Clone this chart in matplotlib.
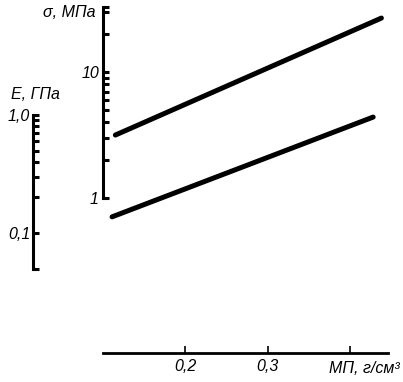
import matplotlib
matplotlib.use("Agg")
import matplotlib.pyplot as plt
from matplotlib import ticker

# density of the material, g/cm3 (line end points)
density_sigma = [0.115, 0.438]
sigma_mpa = [3.16, 26.8]
density_e = [0.111, 0.428]
e_gpa = [0.137, 0.96]

x_ticks = [0.2, 0.3, 0.4]
x_tick_labels = ["0,2", "0,3", ""]
sigma_major = [1, 10]
sigma_major_labels = ["1", "10"]
sigma_minor = [2, 3, 4, 5, 6, 7, 8, 9, 20, 30, 32.8]
e_major = [0.1, 1.0]
e_major_labels = ["0,1", "1,0"]
e_minor = [0.05, 0.2, 0.3, 0.4, 0.5, 0.6, 0.7, 0.8, 0.9]


def plot_density_chart():
    font = {'family': 'Liberation Sans', 'style': 'italic', 'size': 11.5}
    matplotlib.rc('font', **font)
    fig = plt.figure(figsize=(4.03, 3.82), dpi=100)
    pos = [103 / 403, 1 - 353 / 382, 285 / 403, 346 / 382]

    ax = fig.add_axes(pos)
    ax.set_xlim(0.1, 0.446)
    ax.set_yscale("log")
    ax.set_ylim(10 ** -1.230, 10 ** 1.516)
    ax.plot(density_sigma, sigma_mpa, color="black", lw=3.6, solid_capstyle="round")

    for s in ["top", "right"]:
        ax.spines[s].set_visible(False)
    ax.spines["left"].set_bounds(1, 32.8)
    ax.spines["left"].set_linewidth(2.2)
    ax.spines["bottom"].set_linewidth(2.0)

    ax.yaxis.set_major_locator(ticker.FixedLocator(sigma_major))
    ax.yaxis.set_major_formatter(ticker.FixedFormatter(sigma_major_labels))
    ax.yaxis.set_minor_locator(ticker.FixedLocator(sigma_minor))
    ax.yaxis.set_minor_formatter(ticker.NullFormatter())
    ax.tick_params(axis="y", which="both", direction="in", length=4.5, width=2.2, pad=3)
    ax.xaxis.set_major_locator(ticker.FixedLocator(x_ticks))
    ax.xaxis.set_major_formatter(ticker.FixedFormatter(x_tick_labels))
    ax.tick_params(axis="x", direction="in", length=5, width=1.2, pad=4)

    ax.text(-0.028, 0.9855, "σ, МПа", transform=ax.transAxes, ha="right", va="center")
    ax.text(1.042, -0.0434, "МП, г/см³", transform=ax.transAxes, ha="right", va="center")

    # second scale for the modulus
    ax2 = fig.add_axes(pos)
    ax2.patch.set_visible(False)
    ax2.set_xlim(0.1, 0.446)
    ax2.set_yscale("log")
    ax2.set_ylim(10 ** -2.017, 10 ** 0.915)
    ax2.plot(density_e, e_gpa, color="black", lw=3.6, solid_capstyle="round")
    for s in ["top", "right", "bottom"]:
        ax2.spines[s].set_visible(False)
    ax2.spines["left"].set_position(("axes", -70 / 285))
    ax2.spines["left"].set_bounds(0.05, 1.0)
    ax2.spines["left"].set_linewidth(2.2)
    ax2.xaxis.set_visible(False)
    ax2.yaxis.set_major_locator(ticker.FixedLocator(e_major))
    ax2.yaxis.set_major_formatter(ticker.FixedFormatter(e_major_labels))
    ax2.yaxis.set_minor_locator(ticker.FixedLocator(e_minor))
    ax2.yaxis.set_minor_formatter(ticker.NullFormatter())
    ax2.tick_params(axis="y", which="both", direction="in", length=4.5, width=2.2, pad=2)
    ax2.text(-0.151, 0.7457, "E, ГПа", transform=ax2.transAxes, ha="right", va="center")

    plt.savefig("out.png", dpi=100)


if __name__ == "__main__":
    plot_density_chart()
